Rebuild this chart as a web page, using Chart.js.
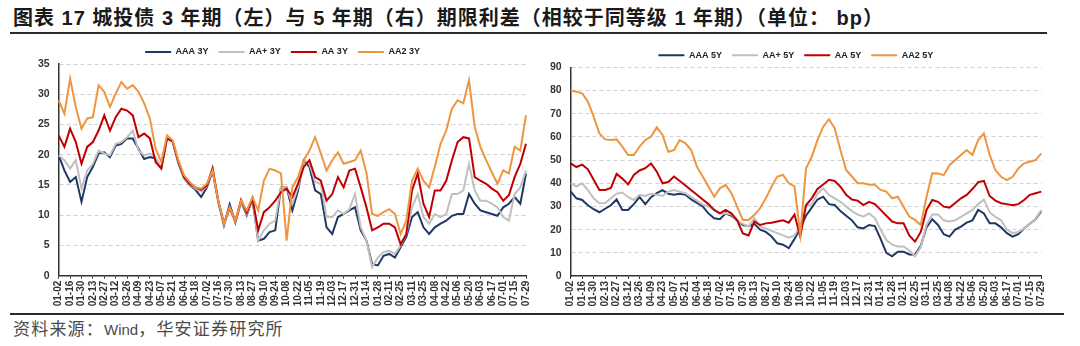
<!DOCTYPE html>
<html>
<head>
<meta charset="utf-8">
<script src="https://cdn.jsdelivr.net/npm/chart.js@4.4.1/dist/chart.umd.min.js"></script>
<style>
html,body{margin:0;padding:0;background:#fff;width:1080px;height:346px;overflow:hidden;}
#title{position:absolute;left:13px;top:8px;font-weight:bold;font-size:20px;letter-spacing:1px;line-height:20px;font-family:"Liberation Sans","Noto Sans CJK SC",sans-serif;color:#1a1a1a;white-space:nowrap;}
#tline{position:absolute;left:10px;top:32px;width:1037px;height:2px;background:#2b2b2b;}
#bline{position:absolute;left:10px;top:313px;width:1054px;height:2px;background:#2b2b2b;}
#src{position:absolute;left:13px;top:319px;font-size:17px;letter-spacing:1.2px;line-height:18px;font-family:"Noto Sans CJK SC","Liberation Sans",sans-serif;color:#4a4a4a;white-space:nowrap;}
#src .w{font-family:"Liberation Sans",Arial,sans-serif;font-size:15px;letter-spacing:0;}
canvas{position:absolute;}
</style>
</head>
<body>
<div id="title">图表 17 城投债 3 年期（左）与 5 年期（右）期限利差（相较于同等级 1 年期）（单位： bp）</div>
<div id="tline"></div>
<canvas id="c3" width="540" height="277" style="left:0;top:35px;width:540px;height:277px;"></canvas>
<canvas id="c5" width="540" height="277" style="left:540px;top:35px;width:540px;height:277px;"></canvas>
<div id="bline"></div>
<div id="src">资料来源：<span class="w">Wind</span>，华安证券研究所</div>
<script>
// weekly categories (2024-01-02 .. 2025-07-29)
const weeks = ['01-02','01-09','01-16','01-23','01-30','02-06','02-13','02-20','02-27','03-05','03-12','03-19','03-26','04-02','04-09','04-16','04-23','04-30','05-07','05-14','05-21','05-28','06-04','06-11','06-18','06-25','07-02','07-09','07-16','07-23','07-30','08-06','08-13','08-20','08-27','09-03','09-10','09-17','09-24','10-01','10-08','10-15','10-22','10-29','11-05','11-12','11-19','11-26','12-03','12-10','12-17','12-24','12-31','01-07','01-14','01-21','01-28','02-04','02-11','02-18','02-25','03-04','03-11','03-18','03-25','04-01','04-08','04-15','04-22','04-29','05-06','05-13','05-20','05-27','06-03','06-10','06-17','06-24','07-01','07-08','07-15','07-22','07-29'];

// 3Y spreads (bp)
const aaa3 = [19.9,17.4,15.5,16.3,12.2,16.3,18.0,20.2,20.4,19.6,
  21.5,21.8,22.7,22.7,21.0,19.3,19.6,19.4,17.8,22.7,
  22.2,18.6,16.1,15.0,14.2,13.0,14.6,17.3,12.2,8.3,
  11.8,8.8,12.2,10.0,12.6,5.8,6.1,7.2,7.5,14.6,
  14.6,10.8,14.1,19.1,18.0,14.1,13.5,8.0,6.9,9.7,
  10.2,10.8,11.3,7.5,5.8,1.9,1.7,3.3,3.6,3.0,
  4.7,6.4,9.7,10.5,8.0,6.9,8.0,8.6,9.1,9.9,
  10.2,10.2,13.5,11.9,10.8,10.5,10.2,9.9,11.3,11.9,
  13.0,11.9,16.9];
const aap3 = [19.9,19.1,17.7,19.1,14.4,17.4,18.5,20.7,20.2,19.9,
  21.8,22.1,22.9,24.0,20.7,19.9,20.2,19.6,17.9,22.8,
  22.3,18.7,16.2,15.1,14.4,13.9,14.8,17.5,12.3,8.4,
  11.0,8.9,12.3,10.2,12.7,5.8,7.5,8.6,9.1,14.6,
  14.6,11.9,14.6,19.1,18.5,15.5,15.2,9.7,9.7,10.8,
  10.2,11.0,13.5,8.0,5.8,1.4,3.0,3.9,4.1,3.6,
  5.0,6.9,11.3,13.5,9.7,8.6,10.2,9.7,10.2,13.5,
  13.5,14.1,18.5,14.1,12.4,12.4,11.9,11.3,9.7,9.1,
  13.5,14.6,17.4];
const aa3 = [23.2,21.3,24.3,22.1,18.5,21.3,22.1,24.0,26.5,24.0,
  26.2,27.6,27.3,26.5,22.9,23.5,22.7,18.8,17.7,22.7,
  22.2,18.8,16.3,15.2,14.6,14.2,14.9,17.8,12.4,8.6,
  11.2,9.0,12.5,10.4,12.8,7.5,10.5,11.3,12.4,13.8,
  14.4,13.0,15.2,18.0,19.1,16.3,15.7,12.4,13.5,16.3,
  14.6,17.4,17.7,14.6,11.3,7.5,8.0,8.6,8.6,8.0,
  5.2,6.9,14.1,16.9,11.9,9.7,14.1,14.1,15.7,19.1,
  22.1,22.9,22.7,16.3,15.7,15.2,14.4,13.8,12.4,13.3,
  16.3,18.5,21.8];
const aa23 = [29.0,26.8,32.6,27.9,24.3,26.0,26.2,31.5,30.4,27.9,
  30.1,32.0,30.9,31.5,30.4,28.5,26.0,21.0,18.8,23.2,
  22.4,19.1,16.6,15.5,14.6,14.4,15.2,17.4,12.4,8.6,
  11.3,9.1,12.4,10.8,13.0,10.8,15.7,17.7,17.4,16.9,
  5.8,14.6,16.3,19.1,20.7,22.9,20.2,17.4,19.1,20.4,
  18.5,18.8,19.1,20.7,17.0,10.2,9.9,10.5,11.0,10.2,
  6.9,9.1,15.7,17.7,15.7,14.6,18.0,21.8,24.0,27.6,
  29.0,28.5,32.3,24.6,21.3,19.1,17.1,15.2,17.4,16.9,
  21.3,20.7,26.5];

// 5Y spreads (bp)
const aaa5 = [36.4,33.5,32.8,30.5,28.8,27.5,29.0,30.5,33.0,28.5,
  28.5,31.0,34.0,31.0,34.0,35.7,37.0,35.5,35.0,35.5,
  35.0,33.0,31.5,30.0,27.0,24.9,24.5,27.0,26.0,24.0,
  22.0,21.5,22.5,20.0,19.0,17.0,14.1,13.5,12.0,16.0,
  20.5,26.0,29.5,33.0,34.2,31.0,30.6,28.0,26.0,24.0,
  21.0,20.5,22.0,21.5,16.0,10.0,8.5,10.5,10.5,9.3,
  9.2,13.0,21.0,24.5,22.0,18.0,17.0,20.0,21.3,23.0,
  24.0,28.5,27.0,22.7,22.7,21.0,18.5,17.0,18.0,20.5,
  22.5,24.5,28.0];
const aap5 = [40.0,38.6,40.0,37.0,33.5,31.4,31.5,33.5,35.5,36.0,
  34.0,32.8,35.0,34.5,35.5,35.0,34.5,36.4,37.1,36.4,
  35.7,34.0,32.5,30.8,30.0,28.5,27.0,27.0,26.5,24.0,
  22.5,21.3,24.9,21.3,20.5,19.5,18.5,17.5,16.5,17.5,
  21.5,30.0,31.0,35.5,37.8,35.0,33.5,32.0,30.0,28.0,
  26.5,25.6,27.0,25.0,20.0,15.5,13.5,12.7,12.7,11.0,
  8.5,12.5,22.0,26.5,26.5,24.0,23.5,24.0,25.5,27.0,
  28.5,31.0,33.0,27.5,25.5,24.0,20.0,18.5,19.0,20.5,
  22.5,24.5,28.5];
const aa5 = [48.6,47.0,48.0,46.0,41.5,37.1,37.1,38.0,44.0,42.0,
  39.5,43.6,45.5,46.5,48.5,45.0,40.0,40.5,42.9,41.0,
  39.0,37.0,35.0,33.0,31.0,28.5,27.0,28.5,27.0,24.0,
  18.4,17.5,23.5,22.0,22.7,23.0,23.5,24.0,23.0,26.5,
  17.0,30.5,33.5,37.5,39.5,41.5,41.0,38.5,35.0,33.0,
  32.5,30.6,32.0,31.0,28.5,26.0,23.5,22.7,22.7,17.5,
  14.8,19.0,28.5,32.8,32.0,29.9,29.5,31.5,33.5,35.0,
  37.5,40.5,41.0,34.5,32.5,31.4,31.0,30.5,31.0,32.8,
  35.0,35.7,36.4];
const aa25 = [80.0,79.5,78.8,75.2,68.7,61.5,58.9,58.6,58.9,55.8,
  52.2,52.2,55.8,58.6,60.1,64.1,60.8,53.6,54.3,58.6,
  57.2,54.3,47.1,42.9,38.6,34.2,37.8,39.3,35.7,29.9,
  24.2,24.2,26.3,29.2,33.5,38.6,42.9,43.6,40.0,38.6,
  18.0,46.4,51.4,58.6,64.4,67.6,63.7,54.3,45.7,42.9,
  40.0,40.0,39.3,39.3,37.1,36.4,33.5,34.2,29.9,25.6,
  24.2,22.0,34.2,44.3,44.2,43.5,47.8,50.0,52.2,54.3,
  52.2,58.6,61.5,52.2,45.7,42.8,41.4,42.8,46.4,48.6,
  49.3,50.0,52.9];

const names3 = ['AAA 3Y','AA+ 3Y','AA 3Y','AA2 3Y'];
const names5 = ['AAA 5Y','AA+ 5Y','AA 5Y','AA2 5Y'];
const colors = ['#1F3864','#C0C0C0','#C00000','#F0953F'];

const FONT = '"Liberation Sans", Arial, sans-serif';

// nudges the legend row down a little (closer to the plot, as in the original)
const legendShift = { id: 'legendShift', afterLayout(chart) { if (chart.legend) chart.legend.top += 2.5; } };

function makeChart(id, series, names, ymax, step, pad, yw, xh) {
  const datasets = series.map((d, i) => ({
    label: names[i], data: d,
    borderColor: colors[i], backgroundColor: colors[i],
    borderWidth: 2, pointRadius: 0, tension: 0, fill: false,
    order: 4 - i
  }));
  return new Chart(document.getElementById(id), {
    type: 'line',
    data: { labels: weeks, datasets },
    plugins: [legendShift],
    options: {
      responsive: false, animation: false, devicePixelRatio: 1,
      layout: { padding: pad },
      plugins: {
        legend: {
          display: true, position: 'top', align: 'center',
          labels: {
            usePointStyle: true, pointStyle: 'line', pointStyleWidth: 26,
            padding: 10, color: '#222',
            font: { family: FONT, size: 9, weight: 'bold' },
            sort: (a, b) => a.datasetIndex - b.datasetIndex
          }
        },
        tooltip: { enabled: false }
      },
      scales: {
        x: {
          type: 'category', offset: false,
          grid: { display: true, drawOnChartArea: false, drawTicks: true, tickLength: 3, color: '#333' },
          border: { display: true, color: '#333', width: 1.5 },
          ticks: { autoSkip: false, maxRotation: 90, minRotation: 90, padding: 2, color: '#333',
                   font: { family: FONT, size: 10, weight: 'bold' } },
          afterBuildTicks: s => { s.ticks = s.ticks.filter(t => t.value % 2 === 0); },
          afterFit: s => { s.height = xh; }
        },
        y: {
          min: 0, max: ymax,
          ticks: { stepSize: step, padding: 9, color: '#333',
                   font: { family: FONT, size: 10.5, weight: 'bold' } },
          grid: { color: c => (c.tick && c.tick.value === 0) ? 'rgba(0,0,0,0)' : '#d0d0d0',
                  drawTicks: false, lineWidth: 1 },
          border: { display: true, color: '#333', width: 1.5, dash: [4, 3] },
          afterFit: s => { s.width = yw; }
        }
      }
    }
  });
}

makeChart('c3', [aaa3, aap3, aa3, aa23], names3, 35, 5,
  { left: 37.3, right: 12.3, top: 0, bottom: 0 }, 21.4, 36.3);
makeChart('c5', [aaa5, aap5, aa5, aa25], names5, 90, 10,
  { left: 10.3, right: 38.7, top: 3.3, bottom: 0 }, 20.4, 36);
</script>
</body>
</html>
